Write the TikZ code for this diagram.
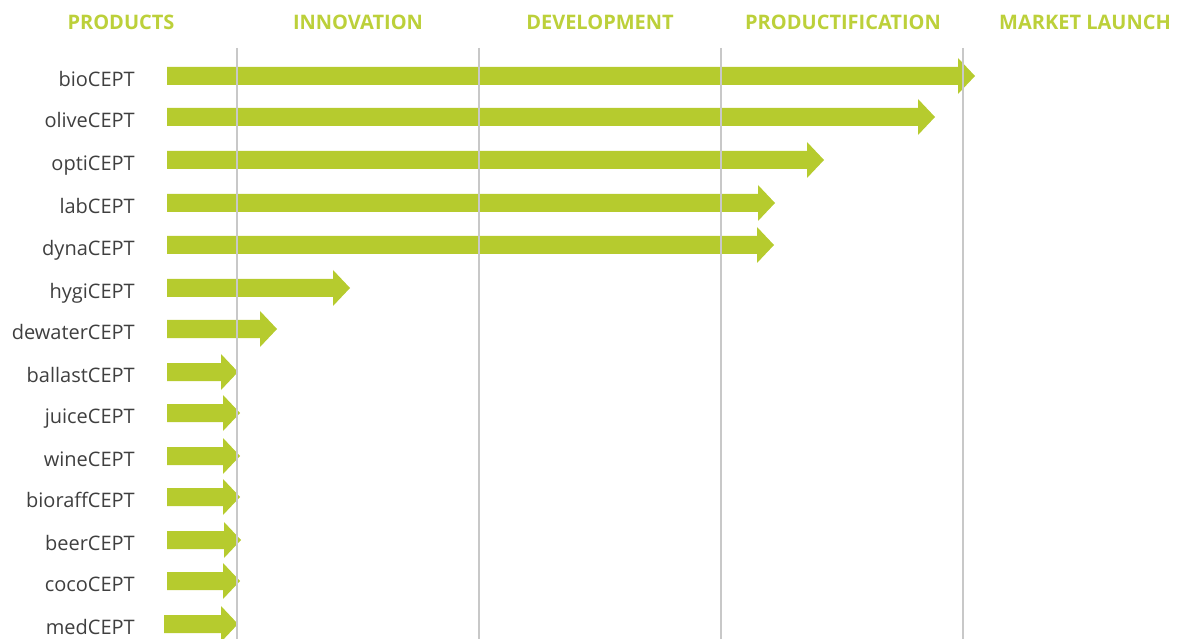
\documentclass[tikz,border=0pt]{standalone}
\usepackage{fontspec}
\setmainfont{Open Sans}
\definecolor{bar}{HTML}{B6CB2E}
\definecolor{head}{HTML}{BCD03A}
\definecolor{lbl}{HTML}{3F3F3F}
\definecolor{grid}{HTML}{C8C8C8}
\begin{document}
\begin{tikzpicture}[x=1pt,y=-1pt,
  hdr/.style={font=\fontsize{20}{22}\selectfont\bfseries, text=head, inner sep=0pt, anchor=base},
  lblnode/.style={font=\fontsize{20}{22}\selectfont, text=lbl, anchor=base east, inner sep=0pt},
  gridline/.style={draw=grid, line width=1.3pt},
  arrowshape/.style={fill=bar, draw=none}]
\useasboundingbox (0,0) rectangle (1203,639);
% headers
\node[hdr] (hProd) at (121,29.5) {PRODUCTS};
\node[hdr] (hInno) at (358,29.5) {INNOVATION};
\node[hdr] (hDev) at (600,29.5) {DEVELOPMENT};
\node[hdr] (hProdf) at (843,29.5) {PRODUCTIFICATION};
\node[hdr] (hMkt) at (1085,29.5) {MARKET LAUNCH};
% arrows and labels
\foreach \name/\y/\xs/\xt in {bioCEPT/76/167/975, oliveCEPT/117/167/935, optiCEPT/160/167/824, labCEPT/203/167/775, dynaCEPT/245/167/774, hygiCEPT/288/167/350, dewaterCEPT/329/167/277, ballastCEPT/372/167/238, juiceCEPT/413/167/240, wineCEPT/456/167/240, bioraffCEPT/497/167/240, beerCEPT/540/167/241, cocoCEPT/581/167/240, medCEPT/624/164/238}{
  \fill[arrowshape] (\xs,\y-9) -- (\xt-17,\y-9) -- (\xt-17,\y-18) -- (\xt,\y) -- (\xt-17,\y+18) -- (\xt-17,\y+9) -- (\xs,\y+9) -- cycle;
  \node[lblnode] (l-\name) at (135,\y+10.5) {\name};
}
% grid lines
\foreach \gx/\gn in {237/g1, 479/g2, 721/g3, 963/g4}{
  \coordinate (\gn top) at (\gx,48);
  \coordinate (\gn bot) at (\gx,639);
  \draw[gridline] (\gn top) -- (\gn bot);
}
\end{tikzpicture}
\end{document}
